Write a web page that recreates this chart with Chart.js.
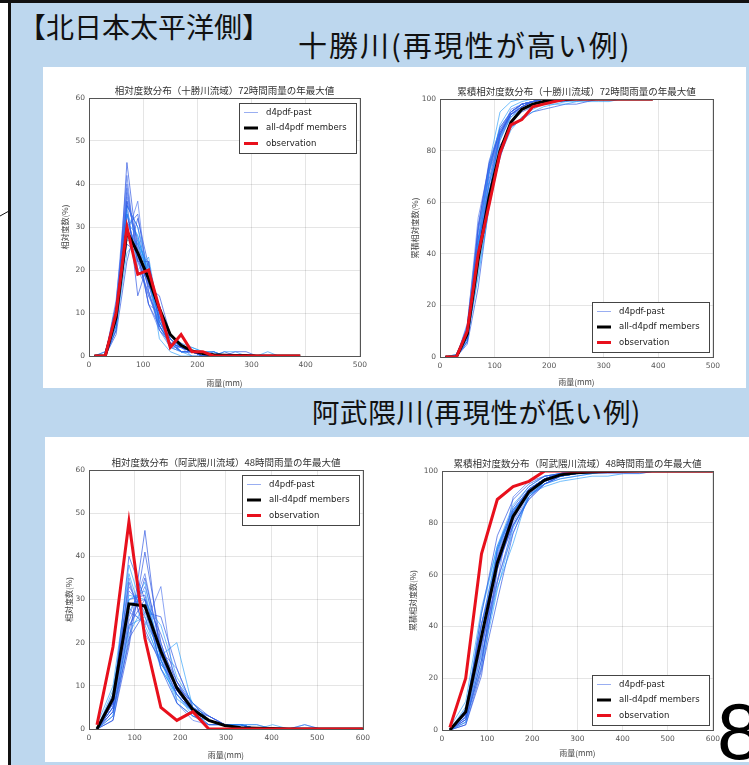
<!DOCTYPE html>
<html>
<head>
<meta charset="utf-8">
<script src="https://cdn.jsdelivr.net/npm/chart.js@4/dist/chart.umd.min.js"></script>
<style>
  html, body { margin: 0; padding: 0; }
  body { width: 749px; height: 765px; position: relative; overflow: hidden; background: #fff;
         font-family: "Noto Sans CJK JP", sans-serif; }
  .bar { position: absolute; background: #111; }
  #bg { position: absolute; left: 11px; top: 3px; right: 0; bottom: 0; background: #bdd7ee; }
  .panel { position: absolute; background: #fff; }
  .head { position: absolute; margin: 0; font-weight: normal; line-height: 1; white-space: nowrap; color: #111; }
  canvas { position: absolute; }
  #page { position: absolute; left: 717px; top: 692px; font: 80px/80px "Liberation Sans", sans-serif; color: #000; }
</style>
</head>
<body>
<div id="bg"></div>
<div class="bar" style="left:0;top:0;width:749px;height:3px"></div>
<div class="bar" style="left:8px;top:0;width:3px;height:765px"></div>
<svg style="position:absolute;left:0;top:205px" width="10" height="14"><line x1="0" y1="11" x2="9" y2="6" stroke="#111" stroke-width="1"/></svg>

<div class="panel" style="left:43px;top:67px;width:703px;height:321px"></div>
<div class="panel" style="left:45px;top:437px;width:704px;height:325px"></div>

<h1 class="head" style="left:18px;top:12px;font-size:28px">【北日本太平洋側】</h1>
<h2 class="head" style="left:298px;top:30px;font-size:29px;letter-spacing:2px">十勝川(再現性が高い例)</h2>
<h2 class="head" style="left:312px;top:398px;font-size:27.5px;letter-spacing:0.6px">阿武隈川(再現性が低い例)</h2>

<canvas id="tokachiPdf" width="324" height="310" style="left:48px;top:78px"></canvas>
<canvas id="tokachiCdf" width="327" height="310" style="left:398px;top:78px"></canvas>
<canvas id="abukumaPdf" width="327" height="314" style="left:48px;top:448px"></canvas>
<canvas id="abukumaCdf" width="327" height="314" style="left:398px;top:448px"></canvas>

<div id="page">8</div>

<script>
// ---- data ----
const seriesNames = ['d4pdf-past', 'all-d4pdf members', 'observation'];

// 十勝川: 72時間雨量, bin centres (mm)
const tokachiRain = [10, 30, 50, 70, 90, 110, 130, 150, 170, 190, 210, 230, 250, 270, 290, 310, 330, 350, 370, 390];
const tokachiObs = [0, 0, 10, 30, 19, 20, 11, 2, 5, 1, 1, 0, 0, 0, 0, 0, 0, 0, 0, 0];
const tokachiAll = [0, 0, 9, 29, 24, 18, 11, 5, 2.5, 1.2, 0.6, 0.3, 0.2, 0.1, 0.1, 0, 0, 0, 0, 0];
const tokachiPast = [
  [0, 0, 6, 45, 24, 12, 7, 3, 2, 1, 0, 0],
  [0, 0, 12, 38, 24, 12, 10, 2, 1, 1, 0, 0],
  [0, 1, 10, 33, 28, 18, 7, 2, 1, 0, 0],
  [0, 0, 9, 33, 22, 22, 8, 4, 1, 1, 0, 0, 0],
  [0, 0, 8, 28, 36, 15, 7, 3, 2, 1, 0, 0],
  [0, 0, 6, 27, 26, 19, 10, 5, 3, 2, 1, 1, 0, 0],
  [0, 0, 11, 26, 24, 16, 14, 5, 2, 1, 1, 0, 0],
  [0, 0, 9, 40, 22, 14, 9, 3, 2, 0, 0, 1, 0, 0],
  [0, 0, 7, 24, 27, 20, 11, 4, 2, 2, 1, 0, 1, 1, 0, 0, 0],
  [0, 0, 10, 36, 14, 22, 7, 3, 3, 1, 1, 1, 0, 1, 1, 0, 0, 0],
  [0, 0, 13, 37, 26, 12, 6, 2, 2, 1, 1, 0, 0],
  [0, 0, 8, 31, 28, 18, 8, 3, 1, 1, 0, 1, 0, 0, 0, 0, 1, 0],
  [0, 0, 5, 22, 32, 21, 11, 4, 2, 1, 1, 0, 1, 0, 0],
  [0, 0, 12, 42, 20, 15, 6, 3, 1, 1, 0],
  [0, 0, 10, 35, 30, 20, 4, 1, 0, 0],
  [0, 0, 7, 35, 30, 17, 6, 3, 1, 1, 0, 0],
  [0, 0, 11, 31, 25, 20, 8, 3, 1, 1, 0, 0, 0],
  [0, 0, 9, 34, 20, 23, 9, 3, 1, 1, 0, 0],
  [0, 0, 6, 30, 33, 17, 9, 3, 1, 1, 0, 0],
  [0, 0, 10, 39, 23, 14, 8, 3, 2, 1, 0, 0, 0, 0],
  [0, 0, 8, 29, 26, 21, 10, 3, 2, 1, 0, 0],
  [0, 1, 9, 36, 27, 15, 7, 3, 1, 1, 0, 0],
  [0, 0, 12, 33, 22, 17, 9, 4, 2, 1, 0, 0, 0, 0, 0, 0, 0],
];
const tokachiCumObs = [0, 0, 10, 40, 59, 79, 90, 92, 97, 98, 99, 100, 100, 100, 100, 100, 100, 100, 100, 100];
const tokachiCumAll = [0, 0, 9, 38, 62, 80, 91, 96, 98, 99, 99.5, 99.8, 100, 100, 100, 100, 100, 100, 100, 100];
const tokachiCumPast = [
  [0, 0, 6, 51, 75, 87, 94, 97, 99, 100, 100, 100],
  [0, 0, 12, 50, 74, 86, 96, 98, 99, 100, 100, 100],
  [0, 1, 11, 44, 72, 90, 97, 99, 100, 100, 100],
  [0, 0, 9, 42, 64, 86, 94, 98, 99, 100, 100, 100, 100],
  [0, 0, 8, 36, 72, 87, 94, 97, 99, 100, 100, 100],
  [0, 0, 6, 33, 59, 78, 88, 93, 96, 98, 99, 100, 100, 100],
  [0, 0, 11, 37, 61, 77, 91, 96, 98, 99, 100, 100, 100],
  [0, 0, 9, 49, 71, 85, 94, 97, 99, 99, 99, 100, 100, 100],
  [0, 0, 7, 31, 58, 78, 89, 93, 95, 97, 98, 98, 99, 100, 100, 100, 100],
  [0, 0, 10, 46, 60, 82, 89, 92, 95, 96, 97, 98, 98, 99, 100, 100, 100, 100],
  [0, 0, 13, 50, 76, 88, 94, 96, 98, 99, 100, 100, 100],
  [0, 0, 8, 39, 67, 85, 93, 96, 97, 98, 98, 99, 99, 99, 99, 99, 100, 100],
  [0, 0, 5, 27, 59, 80, 91, 95, 97, 98, 99, 99, 100, 100, 100],
  [0, 0, 12, 54, 74, 89, 95, 98, 99, 100, 100],
  [0, 0, 10, 45, 75, 95, 99, 100, 100, 100],
  [0, 0, 7, 42, 72, 89, 95, 98, 99, 100, 100, 100],
  [0, 0, 11, 42, 67, 87, 95, 98, 99, 100, 100, 100, 100],
  [0, 0, 9, 43, 63, 86, 95, 98, 99, 100, 100, 100],
  [0, 0, 6, 36, 69, 86, 95, 98, 99, 100, 100, 100],
  [0, 0, 10, 49, 72, 86, 94, 97, 99, 100, 100, 100, 100, 100],
  [0, 0, 8, 37, 63, 84, 94, 97, 99, 100, 100, 100],
  [0, 1, 10, 46, 73, 88, 95, 98, 99, 100, 100, 100],
  [0, 0, 12, 45, 67, 84, 93, 97, 99, 100, 100, 100, 100, 100, 100, 100, 100],
];

// 阿武隈川: 48時間雨量, bin centres (mm)
const abukumaRain = [17.5, 52.5, 87.5, 122.5, 157.5, 192.5, 227.5, 262.5, 297.5, 332.5, 367.5, 402.5, 437.5, 472.5, 507.5, 542.5, 577.5, 612.5];
const abukumaObs = [1, 19, 48, 21, 5, 2, 4, 0, 0, 0, 0, 0, 0, 0, 0, 0, 0, 0];
const abukumaAll = [0, 7, 29, 28.5, 18, 9.5, 4.5, 2, 0.8, 0.3, 0.2, 0.1, 0, 0, 0, 0, 0, 0];
const abukumaPast = [
  [0, 5, 40, 30, 14, 6, 3, 1, 1, 0, 0, 0],
  [0, 8, 33, 27, 17, 8, 4, 2, 1, 0, 0],
  [1, 10, 36, 24, 16, 7, 4, 1, 1, 0, 0],
  [0, 4, 20, 46, 16, 8, 4, 1, 1, 0, 0, 0],
  [0, 6, 25, 33, 20, 9, 4, 2, 1, 0, 0],
  [0, 3, 22, 29, 24, 12, 6, 2, 1, 1, 0, 0, 0],
  [0, 7, 34, 23, 15, 10, 6, 3, 1, 1, 0, 0],
  [0, 5, 28, 24, 33, 6, 2, 1, 1, 0, 0],
  [0, 9, 31, 30, 14, 8, 3, 2, 1, 1, 1, 0, 0, 0],
  [0, 4, 23, 35, 19, 11, 4, 2, 1, 1, 0, 0, 0],
  [0, 6, 27, 25, 18, 14, 5, 3, 1, 0, 0, 0, 0, 1, 0, 0],
  [0, 7, 30, 32, 16, 6, 3, 2, 1, 1, 0, 1, 0, 1, 0],
  [0, 2, 19, 41, 20, 9, 4, 3, 1, 1, 0, 0],
  [0, 6, 35, 22, 16, 10, 6, 2, 1, 1, 1, 0, 0],
  [0, 5, 24, 26, 17, 20, 5, 2, 1, 0, 0],
  [0, 6, 30, 31, 17, 9, 4, 2, 1, 0, 0, 0],
  [0, 4, 26, 36, 18, 9, 4, 2, 1, 0, 0],
  [0, 7, 38, 26, 14, 8, 4, 2, 1, 0, 0, 0],
  [0, 3, 24, 30, 22, 11, 6, 2, 1, 1, 0, 0, 0],
  [0, 5, 32, 28, 15, 11, 5, 2, 1, 1, 0, 0],
  [0, 8, 27, 34, 16, 8, 4, 2, 1, 0, 0],
  [0, 2, 21, 27, 26, 14, 5, 3, 1, 1, 0, 0, 0, 0],
  [0, 6, 29, 30, 19, 9, 4, 2, 1, 0, 0, 0, 0, 0, 0],
];
const abukumaCumObs = [1, 20, 68, 89, 94, 96, 100, 100, 100, 100, 100, 100, 100, 100, 100, 100, 100, 100];
const abukumaCumAll = [0, 7, 36, 64.5, 82.5, 92, 96.5, 98.5, 99.3, 99.6, 99.8, 99.9, 100, 100, 100, 100, 100, 100];
const abukumaCumPast = [
  [0, 5, 45, 75, 89, 95, 98, 99, 100, 100, 100, 100],
  [0, 8, 41, 68, 85, 93, 97, 99, 100, 100, 100],
  [1, 11, 47, 71, 87, 94, 98, 99, 100, 100, 100],
  [0, 4, 24, 70, 86, 94, 98, 99, 100, 100, 100, 100],
  [0, 6, 31, 64, 84, 93, 97, 99, 100, 100, 100],
  [0, 3, 25, 54, 78, 90, 96, 98, 99, 100, 100, 100, 100],
  [0, 7, 41, 64, 79, 89, 95, 98, 99, 100, 100, 100],
  [0, 5, 33, 57, 90, 96, 98, 99, 100, 100, 100],
  [0, 9, 40, 70, 84, 92, 95, 97, 98, 99, 100, 100, 100, 100],
  [0, 4, 27, 62, 81, 92, 96, 98, 99, 100, 100, 100, 100],
  [0, 6, 33, 58, 76, 90, 95, 98, 99, 99, 99, 99, 99, 100, 100, 100],
  [0, 7, 37, 69, 85, 91, 94, 96, 97, 98, 98, 99, 99, 100, 100],
  [0, 2, 21, 62, 82, 91, 95, 98, 99, 100, 100, 100],
  [0, 6, 41, 63, 79, 89, 95, 97, 98, 99, 100, 100, 100],
  [0, 5, 29, 55, 72, 92, 97, 99, 100, 100, 100],
  [0, 6, 36, 67, 84, 93, 97, 99, 100, 100, 100, 100],
  [0, 4, 30, 66, 84, 93, 97, 99, 100, 100, 100],
  [0, 7, 45, 71, 85, 93, 97, 99, 100, 100, 100, 100],
  [0, 3, 27, 57, 79, 90, 96, 98, 99, 100, 100, 100, 100],
  [0, 5, 37, 65, 80, 91, 96, 98, 99, 100, 100, 100],
  [0, 8, 35, 69, 85, 93, 97, 99, 100, 100, 100],
  [0, 2, 23, 50, 76, 90, 95, 98, 99, 100, 100, 100, 100, 100],
  [0, 6, 35, 65, 84, 93, 97, 99, 100, 100, 100, 100, 100, 100, 100],
];

// ---- styling ----
const pastColors = ['rgba(45,85,225,0.68)', 'rgba(70,110,235,0.62)', 'rgba(25,150,250,0.6)'];
const obsColor = '#e8101c';
const allColor = '#000';
const jpFont = '"Noto Sans CJK JP", sans-serif';
const numFont = '"DejaVu Sans", sans-serif';

const toPoints = (xs, ys) => ys.map((y, i) => ({ x: xs[i], y }));

// matplotlib-like frame, title and boxed legend
const figureParts = {
  id: 'figureParts',
  afterDatasetsDraw(chart, args, o) {
    const { ctx, chartArea: a } = chart;
    ctx.save();
    ctx.strokeStyle = '#555';
    ctx.lineWidth = 1;
    ctx.strokeRect(Math.round(a.left) + 0.5, Math.round(a.top) + 0.5, Math.round(a.width), Math.round(a.height));

    ctx.fillStyle = '#333';
    ctx.font = '9.5px ' + jpFont;
    ctx.textAlign = 'center';
    ctx.textBaseline = 'bottom';
    ctx.fillText(o.title, (a.left + a.right) / 2, a.top - 3);

    const w = 117, h = 50;
    const x = Math.round(a.right - w - 4);
    const y = Math.round(o.legendAt === 'bottom' ? a.bottom - h - 5 : a.top + 5);
    ctx.fillStyle = '#fff';
    ctx.fillRect(x, y, w, h);
    ctx.strokeStyle = '#444';
    ctx.strokeRect(x + 0.5, y + 0.5, w, h);
    const samples = [
      { color: 'rgba(110,140,235,0.7)', width: 1 },
      { color: allColor, width: 3 },
      { color: obsColor, width: 3 },
    ];
    ctx.textAlign = 'left';
    ctx.textBaseline = 'middle';
    ctx.font = '8.5px ' + numFont;
    seriesNames.forEach((name, i) => {
      const ly = y + 9.5 + i * 15.5;
      ctx.strokeStyle = samples[i].color;
      ctx.lineWidth = samples[i].width;
      ctx.beginPath();
      ctx.moveTo(x + 5, ly);
      ctx.lineTo(x + 19, ly);
      ctx.stroke();
      ctx.fillStyle = '#222';
      ctx.fillText(name, x + 27, ly);
    });
    ctx.restore();
  },
};

function drawFigure(id, cfg) {
  const datasets = cfg.past.map((m, i) => ({
    label: seriesNames[0],
    data: toPoints(cfg.xs, m),
    borderColor: pastColors[i % pastColors.length],
    borderWidth: 1,
    order: 2,
  }));
  datasets.push({ label: seriesNames[1], data: toPoints(cfg.xs, cfg.all), borderColor: allColor, borderWidth: 3, order: 1 });
  datasets.push({ label: seriesNames[2], data: toPoints(cfg.xs, cfg.obs), borderColor: obsColor, borderWidth: 3, order: 0 });

  const grid = { color: 'rgba(0,0,0,0.1)', drawTicks: false };
  new Chart(document.getElementById(id), {
    type: 'line',
    data: { datasets },
    options: {
      responsive: false,
      animation: false,
      events: [],
      elements: { point: { radius: 0 }, line: { tension: 0 } },
      layout: { padding: { left: 0, top: cfg.pad[0], right: cfg.pad[1], bottom: 0 } },
      scales: {
        x: {
          type: 'linear', min: 0, max: cfg.xMax,
          border: { display: false },
          grid,
          ticks: { stepSize: 100, padding: 5, color: '#555', font: { size: 7.5, family: numFont } },
          title: { display: true, text: '雨量(mm)', color: '#444', font: { size: 8, family: jpFont }, padding: { top: 0, bottom: cfg.titlePad[1] } },
          afterFit: (s) => { s.height = cfg.axisSize[1]; },
        },
        y: {
          min: 0, max: cfg.yMax,
          border: { display: false },
          grid,
          ticks: { stepSize: cfg.yStep, padding: 4, color: '#555', font: { size: 7.5, family: numFont } },
          title: { display: true, text: cfg.yTitle, color: '#444', font: { size: 8, family: jpFont }, padding: { top: cfg.titlePad[0], bottom: 0 } },
          afterFit: (s) => { s.width = cfg.axisSize[0]; },
        },
      },
      plugins: {
        legend: { display: false },
        tooltip: { enabled: false },
        figureParts: { title: cfg.title, legendAt: cfg.legendAt },
      },
    },
    plugins: [figureParts],
  });
}

drawFigure('tokachiPdf', {
  xs: tokachiRain, past: tokachiPast, all: tokachiAll, obs: tokachiObs,
  xMax: 500, yMax: 60, yStep: 10, yTitle: '相対度数(%)', legendAt: 'top',
  title: '相対度数分布（十勝川流域）72時間雨量の年最大値',
  pad: [20, 11], axisSize: [41, 32], titlePad: [12, 0],
});
drawFigure('tokachiCdf', {
  xs: tokachiRain, past: tokachiCumPast, all: tokachiCumAll, obs: tokachiCumObs,
  xMax: 500, yMax: 100, yStep: 20, yTitle: '累積相対度数(%)', legendAt: 'bottom',
  title: '累積相対度数分布（十勝川流域）72時間雨量の年最大値',
  pad: [21, 12], axisSize: [42, 31], titlePad: [12, 1],
});
drawFigure('abukumaPdf', {
  xs: abukumaRain, past: abukumaPast, all: abukumaAll, obs: abukumaObs,
  xMax: 600, yMax: 60, yStep: 10, yTitle: '相対度数(%)', legendAt: 'top',
  title: '相対度数分布（阿武隈川流域）48時間雨量の年最大値',
  pad: [22, 12], axisSize: [41, 33], titlePad: [16, 2],
});
drawFigure('abukumaCdf', {
  xs: abukumaRain, past: abukumaCumPast, all: abukumaCumAll, obs: abukumaCumObs,
  xMax: 600, yMax: 100, yStep: 20, yTitle: '累積相対度数(%)', legendAt: 'bottom',
  title: '累積相対度数分布（阿武隈川流域）48時間雨量の年最大値',
  pad: [23, 10], axisSize: [44, 32], titlePad: [10, 4],
});
</script>
</body>
</html>
